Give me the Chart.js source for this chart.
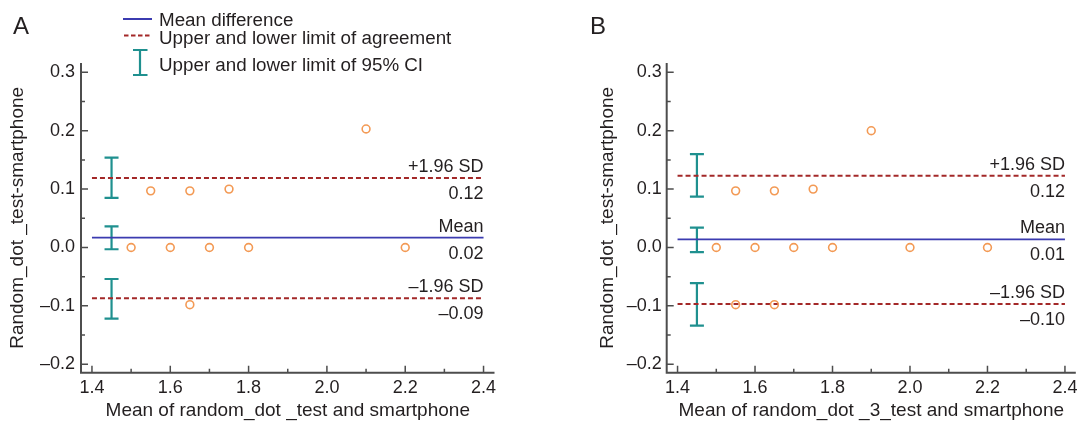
<!DOCTYPE html>
<html>
<head>
<meta charset="utf-8">
<script src="https://cdn.jsdelivr.net/npm/chart.js@4.4.0/dist/chart.umd.min.js"></script>
<style>
html,body{margin:0;padding:0;background:#fff;width:1085px;height:422px;overflow:hidden}
.panel{position:absolute;top:0;height:422px}
#pa{left:0;width:520px}
#pb{left:585px;width:500px}
</style>
</head>
<body>
<div class="panel" id="pa"><canvas id="ca"></canvas></div>
<div class="panel" id="pb"><canvas id="cb"></canvas></div>
<script>
// ---------- data ----------
const xTickValues = [1.4, 1.6, 1.8, 2.0, 2.2, 2.4];
const xTickLabels = ['1.4', '1.6', '1.8', '2.0', '2.2', '2.4'];
const xMinorTicks = [1.5, 1.7, 1.9, 2.1, 2.3];
const yTickValues = [-0.2, -0.1, 0.0, 0.1, 0.2, 0.3];
const yTickLabels = ['\u20130.2', '\u20130.1', '0.0', '0.1', '0.2', '0.3'];
const yMinorTicks = [-0.15, -0.05, 0.05, 0.15, 0.25];
const xRange = [1.372, 2.428];
const yRange = [-0.2145, 0.316];
const lineStartX = 1.4;
const lineEndX = 2.4;
const ciX = 1.45;

// Panel A
const aPointsX = [1.5, 1.6, 1.7, 1.8, 2.2, 1.55, 1.65, 1.75, 2.1, 1.65];
const aPointsY = [0, 0, 0, 0, 0, 0.097, 0.097, 0.100, 0.203, -0.098];
const aMean = 0.017, aUpper = 0.119, aLower = -0.087;
const aCIUpper = [0.085, 0.154];
const aCIMean = [-0.003, 0.036];
const aCILower = [-0.122, -0.054];
const aLabels = ['+1.96 SD', '0.12', 'Mean', '0.02', '\u20131.96 SD', '\u20130.09'];
const aXTitle = 'Mean of random_dot _test and smartphone';
const aYTitle = 'Random_dot _test-smartphone';

// Panel B
const bPointsX = [1.5, 1.6, 1.7, 1.8, 2.0, 2.2, 1.55, 1.65, 1.75, 1.9, 1.55, 1.65];
const bPointsY = [0, 0, 0, 0, 0, 0, 0.097, 0.097, 0.100, 0.200, -0.098, -0.098];
const bMean = 0.014, bUpper = 0.123, bLower = -0.097;
const bCIUpper = [0.087, 0.160];
const bCIMean = [-0.008, 0.034];
const bCILower = [-0.134, -0.061];
const bLabels = ['+1.96 SD', '0.12', 'Mean', '0.01', '\u20131.96 SD', '\u20130.10'];
const bXTitle = 'Mean of random_dot _3_test and smartphone';
const bYTitle = 'Random_dot _test-smartphone';

const legendTexts = ['Mean difference', 'Upper and lower limit of agreement', 'Upper and lower limit of 95% CI'];

// ---------- styles ----------
const FONT = '"Liberation Sans", Arial, Helvetica, sans-serif';
const TEXT = '#231f20';
const AXIS = '#4d4d4d';
const BLUE = '#3b3bb0';
const RED = '#a32828';
const TEAL = '#1f908f';
const ORANGE = '#f39a55';

function ciDataset(range) {
  return {
    type: 'line',
    data: [{x: ciX, y: range[0]}, {x: ciX, y: range[1]}],
    borderColor: TEAL, borderWidth: 2.2,
    pointStyle: 'line', pointRadius: 7, pointBorderWidth: 2.2,
    pointBorderColor: TEAL, pointBackgroundColor: TEAL, pointHoverRadius: 7,
    order: 3
  };
}
function hLine(y, color, dash, width) {
  return {
    type: 'line',
    data: [{x: lineStartX, y: y}, {x: lineEndX, y: y}],
    borderColor: color, borderWidth: width, borderDash: dash,
    pointRadius: 0, order: 2
  };
}

const axesPlugin = {
  id: 'axesPlugin',
  beforeDatasetsDraw(chart) {
    const {ctx, chartArea: ca, scales: {x, y}} = chart;
    ctx.save();
    ctx.strokeStyle = AXIS;
    ctx.lineWidth = 2;
    ctx.beginPath();
    ctx.moveTo(ca.left, ca.top);
    ctx.lineTo(ca.left, ca.bottom);
    ctx.lineTo(ca.right, ca.bottom);
    ctx.stroke();
    ctx.lineWidth = 1.5;
    ctx.beginPath();
    yTickValues.forEach(v => { const p = y.getPixelForValue(v); ctx.moveTo(ca.left, p); ctx.lineTo(ca.left + 7, p); });
    yMinorTicks.forEach(v => { const p = y.getPixelForValue(v); ctx.moveTo(ca.left, p); ctx.lineTo(ca.left + 4, p); });
    xTickValues.forEach(v => { const p = x.getPixelForValue(v); ctx.moveTo(p, ca.bottom); ctx.lineTo(p, ca.bottom - 7); });
    xMinorTicks.forEach(v => { const p = x.getPixelForValue(v); ctx.moveTo(p, ca.bottom); ctx.lineTo(p, ca.bottom - 4); });
    ctx.stroke();
    ctx.restore();
  },
  afterDatasetsDraw(chart) {
    const o = chart.options.plugins.axesPlugin;
    const {ctx, scales: {x, y}} = chart;
    ctx.save();
    ctx.fillStyle = TEXT;
    ctx.font = '18px ' + FONT;
    ctx.textAlign = 'right';
    ctx.textBaseline = 'alphabetic';
    const xr = x.getPixelForValue(lineEndX);
    o.levels.forEach((lv, i) => {
      const py = y.getPixelForValue(lv);
      ctx.fillText(o.labels[i * 2], xr, py - 6);
      ctx.fillText(o.labels[i * 2 + 1], xr, py + 21);
    });
    // panel letter
    ctx.textAlign = 'left';
    ctx.font = '24px ' + FONT;
    ctx.fillText(o.letter, o.letterX, 33.5);
    // legend
    if (o.legend) {
      ctx.lineWidth = 2;
      ctx.strokeStyle = BLUE;
      ctx.beginPath(); ctx.moveTo(123, 19); ctx.lineTo(152, 19); ctx.stroke();
      ctx.strokeStyle = RED;
      ctx.setLineDash([4.5, 2.5]);
      ctx.beginPath(); ctx.moveTo(124, 35.5); ctx.lineTo(151, 35.5); ctx.stroke();
      ctx.setLineDash([]);
      ctx.strokeStyle = TEAL;
      ctx.lineWidth = 2.2;
      ctx.beginPath();
      ctx.moveTo(140, 50); ctx.lineTo(140, 75);
      ctx.moveTo(133, 50); ctx.lineTo(147.5, 50);
      ctx.moveTo(133, 75); ctx.lineTo(147.5, 75);
      ctx.stroke();
      ctx.font = '18.8px ' + FONT;
      ctx.fillStyle = TEXT;
      ctx.fillText(legendTexts[0], 159, 26);
      ctx.fillText(legendTexts[1], 159, 43.5);
      ctx.fillText(legendTexts[2], 159, 70.5);
    }
    ctx.restore();
  }
};

function makeChart(id, cfg) {
  const pts = cfg.px.map((v, i) => ({x: v, y: cfg.py[i]}));
  new Chart(document.getElementById(id), {
    type: 'scatter',
    data: {
      datasets: [
        {
          type: 'scatter', data: pts,
          pointStyle: 'circle', pointRadius: 3.9, pointHoverRadius: 3.9,
          borderColor: ORANGE, backgroundColor: 'rgba(255,255,255,0)',
          borderWidth: 1.6, order: 1
        },
        hLine(cfg.mean, BLUE, [], 1.8),
        hLine(cfg.upper, RED, [5, 3], 2),
        hLine(cfg.lower, RED, [5, 3], 2),
        ciDataset(cfg.ciU), ciDataset(cfg.ciM), ciDataset(cfg.ciL)
      ]
    },
    options: {
      animation: false,
      responsive: true,
      maintainAspectRatio: false,
      layout: {padding: {top: 63, right: cfg.padRight, bottom: 0, left: 0}},
      plugins: {
        legend: {display: false},
        tooltip: {enabled: false},
        axesPlugin: {
          levels: [cfg.upper, cfg.mean, cfg.lower],
          labels: cfg.labels, letter: cfg.letter, letterX: cfg.letterX, legend: cfg.legend
        }
      },
      scales: {
        x: {
          type: 'linear', min: xRange[0], max: xRange[1],
          grid: {display: false, drawTicks: false},
          border: {display: false},
          afterBuildTicks: s => { s.ticks = xTickValues.map(v => ({value: v})); },
          afterFit: s => { s.height = 49.3; s.paddingLeft = 0; s.paddingRight = 0; },
          ticks: {
            padding: 5, color: TEXT, font: {family: FONT, size: 18},
            maxRotation: 0, autoSkip: false,
            callback: (v, i) => xTickLabels[i]
          },
          title: {
            display: true, text: cfg.xTitle, color: TEXT,
            font: {family: FONT, size: 19}, padding: {top: 0, bottom: 0}
          }
        },
        y: {
          type: 'linear', min: yRange[0], max: yRange[1],
          grid: {display: false, drawTicks: false},
          border: {display: false},
          afterBuildTicks: s => { s.ticks = yTickValues.map(v => ({value: v})); },
          afterFit: s => { s.width = cfg.yWidth; s.paddingTop = 0; s.paddingBottom = 0; },
          ticks: {
            padding: cfg.yPad, color: TEXT, font: {family: FONT, size: 18},
            autoSkip: false,
            callback: (v, i) => yTickLabels[i]
          },
          title: {
            display: true, text: cfg.yTitle, color: TEXT,
            font: {family: FONT, size: 19}, padding: {top: cfg.yTitlePad, bottom: 0}
          }
        }
      }
    },
    plugins: [axesPlugin]
  });
}

makeChart('ca', {
  px: aPointsX, py: aPointsY, mean: aMean, upper: aUpper, lower: aLower,
  ciU: aCIUpper, ciM: aCIMean, ciL: aCILower, labels: aLabels,
  xTitle: aXTitle, yTitle: aYTitle, letter: 'A', letterX: 13, legend: true,
  padRight: 25.5, yWidth: 81, yPad: 6, yTitlePad: 6
});
makeChart('cb', {
  px: bPointsX, py: bPointsY, mean: bMean, upper: bUpper, lower: bLower,
  ciU: bCIUpper, ciM: bCIMean, ciL: bCILower, labels: bLabels,
  xTitle: bXTitle, yTitle: bYTitle, letter: 'B', letterX: 5, legend: false,
  padRight: 3.3, yWidth: 81.7, yPad: 5, yTitlePad: 11
});
</script>
</body>
</html>
